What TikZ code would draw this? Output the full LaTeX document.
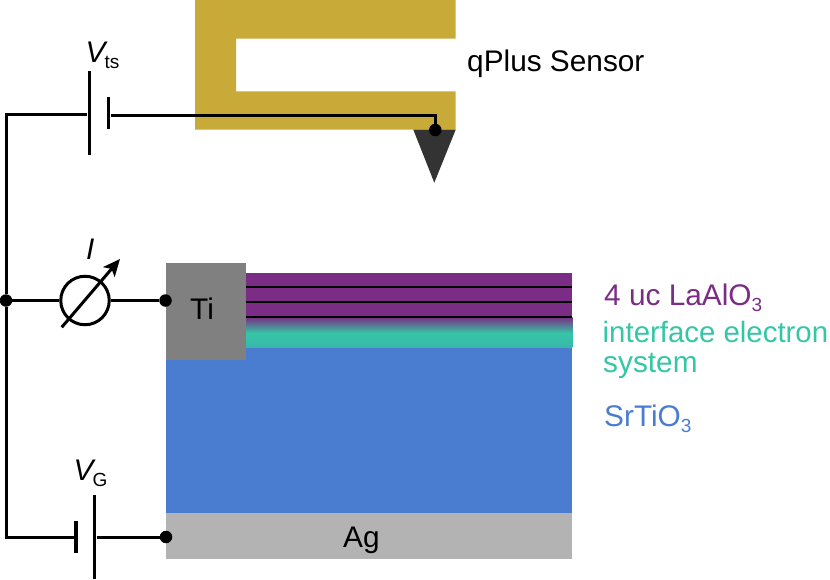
\documentclass[tikz,border=0pt]{standalone}
\usepackage{fontspec}
\setmainfont{Liberation Sans}
\usetikzlibrary{arrows.meta}
\definecolor{gold}{HTML}{C8AA38}
\definecolor{tipgray}{HTML}{333333}
\definecolor{tigray}{HTML}{808080}
\definecolor{aggray}{HTML}{B3B3B3}
\definecolor{laopurple}{HTML}{7B2D85}
\definecolor{iesgreen}{HTML}{35C6A5}
\definecolor{stoblue}{HTML}{4A7DD0}
\newcommand{\bigfont}{\fontsize{29.8}{32}\selectfont}
\newcommand{\iesfont}{\fontsize{29.4}{32}\selectfont}
\newcommand{\subtxt}[1]{\raisebox{-6.5pt}{\fontsize{19}{22}\selectfont #1}}
\tikzset{
  wire/.style={line width=3pt,line join=miter},
  junction/.style={circle,fill=black,inner sep=0pt,minimum size=12.5pt},
  plate/.style={fill=black,inner sep=0pt,minimum width=3.4pt},
  meter/.style={circle,draw=black,line width=3pt,inner sep=0pt,minimum size=48.5pt},
  lab/.style={anchor=base west,inner sep=0pt,font=\bigfont},
  layerline/.style={black,line width=1.6pt}
}
\begin{document}
\begin{tikzpicture}[x=1pt,y=-1pt]
\useasboundingbox (0,0) rectangle (830,579);
% qPlus sensor
\fill[gold] (195,0) -- (455.7,0) -- (455.7,38.7) -- (236,38.7) -- (236,91.3) -- (455.7,91.3) -- (455.7,129.7) -- (195,129.7) -- cycle;
\fill[tipgray] (413.3,129.7) -- (455.7,129.7) -- (434.3,182.7) -- cycle;
% sample
\fill[stoblue] (166,347) rectangle (572.3,513);
\fill[aggray] (166,513) rectangle (572.3,558.7);
\fill[laopurple] (245.7,272.7) rectangle (572.3,317);
\begin{scope}
\clip (245.7,317) rectangle (572.3,347);
\fill[top color=laopurple,bottom color=iesgreen] (240,317) rectangle (580,333);
\fill[top color=iesgreen,bottom color=iesgreen!80!stoblue] (240,333) rectangle (580,347);
\end{scope}
\fill[tigray] (166,263) rectangle (245.7,360);
\draw[layerline] (245.7,286.7) -- (572.3,286.7);
\draw[layerline] (245.7,301.7) -- (572.3,301.7);
\draw[layerline] (245.7,316.7) -- (572.3,316.7);
% circuit elements
\node[plate,minimum height=84pt] (tsbig) at (89.3,113) {};
\node[plate,minimum height=32pt] (tssmall) at (108.7,113) {};
\node[plate,minimum height=32pt] (gsmall) at (76,537) {};
\node[plate,minimum height=84pt] (gbig) at (94.7,537) {};
\node[meter] (meter) at (85,300.5) {};
\node[junction] (jleft) at (6,300.5) {};
\node[junction] (jti) at (165.5,300.5) {};
\node[junction] (jag) at (166,537) {};
\node[junction] (jtip) at (435.3,130) {};
\coordinate (ctop) at (6,114.3);
\coordinate (cbot) at (6,537);
\coordinate (ctip) at (435.3,115);
\coordinate (arrA) at (61.7,327.3);
\coordinate (arrB) at (120,259);
% connectors
\draw[wire] (jleft) -- (ctop) -- (ctop -| tsbig.west);
\draw[wire] (jleft) -- (cbot) -- (gsmall.west |- cbot);
\draw[wire] (tssmall.east |- ctip) -- (ctip) -- (jtip);
\draw[wire] (jleft) -- (meter);
\draw[wire] (meter) -- (jti);
\draw[wire] (gbig.east |- jag) -- (jag);
\draw[wire,-{Stealth[length=17pt,width=15pt,inset=4pt]}] (arrA) -- (arrB);
% labels
\node[lab] (vts) at (85.5,62) {\itshape V\kern-1pt\normalfont\subtxt{ts}};
\node[lab] (vg) at (73.5,480) {\itshape V\kern-1pt\normalfont\subtxt{G}};
\node[lab] (cur) at (86,259) {\itshape I};
\node[lab] (ti) at (190,319) {Ti};
\node[lab] (ag) at (343,547) {Ag};
\node[lab] (qplus) at (467,71) {qPlus Sensor};
\node[lab,text=laopurple] (lao) at (604,305) {4 uc LaAlO\subtxt{3}};
\node[lab,text=iesgreen,font=\iesfont] (ies1) at (602.5,342) {interface electron};
\node[lab,text=iesgreen] (ies2) at (603,372) {system};
\node[lab,text=stoblue] (sto) at (604,426) {SrTiO\subtxt{3}};
\end{tikzpicture}
\end{document}
